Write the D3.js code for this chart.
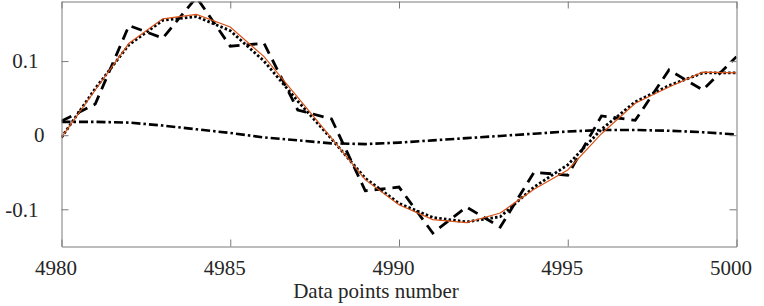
<!DOCTYPE html>
<html>
<head>
<meta charset="utf-8">
<script src="https://cdn.jsdelivr.net/npm/d3@7"></script>
<style>
  body { margin: 0; background: #fff; }
  svg { display: block; }
</style>
</head>
<body>
<svg id="chart"></svg>
<script>
// samples 4980..5000
var xs = d3.range(4980, 5001);

// orange: reference signal
var refVals = [-0.003, 0.061, 0.124, 0.157, 0.163, 0.146, 0.106, 0.051, -0.004, -0.060, -0.094,
               -0.114, -0.118, -0.105, -0.073, -0.047, 0.002, 0.043, 0.065, 0.085, 0.084];
// dotted: estimate
var dotVals = [-0.003, 0.063, 0.122, 0.155, 0.160, 0.141, 0.100, 0.046, -0.005, -0.058, -0.092,
               -0.111, -0.117, -0.110, -0.070, -0.040, 0.008, 0.045, 0.067, 0.084, 0.084];
// dashed: noisy measurement
var noisyVals = [0.019, 0.042, 0.148, 0.131, 0.186, 0.120, 0.124, 0.034, 0.022, -0.075, -0.070,
                 -0.132, -0.097, -0.124, -0.050, -0.054, 0.026, 0.020, 0.088, 0.061, 0.106];
// dash-dot: slow component
var slowVals = [0.018, 0.018, 0.017, 0.013, 0.008, 0.003, -0.003, -0.007, -0.011, -0.012, -0.010,
                -0.007, -0.004, -0.001, 0.002, 0.005, 0.007, 0.007, 0.006, 0.004, 0.001];

var xTicks = [4980, 4985, 4990, 4995, 5000];
var yTicks = [-0.1, 0, 0.1];
var yTickLabels = ["-0.1", "0", "0.1"];

var svgWidth = 764, svgHeight = 306;
var serif = "Liberation Serif, DejaVu Serif, serif";

var svg = d3.select('#chart')
	.attr("width", svgWidth)
	.attr("height", svgHeight);

var xScale = d3.scaleLinear()
	.domain([4980, 5000])
	.range([61.5, 736.5]);

var yScale = d3.scaleLinear()
	.domain([-0.1502, 0.1804])
	.range([246.5, 1.5]);

svg.append("clipPath").attr("id", "plotclip")
	.append("rect")
	.attr("x", 61.5).attr("y", 1.5)
	.attr("width", 675).attr("height", 245);

var line = d3.line()
	.x(function(d){ return xScale(d[0]); })
	.y(function(d){ return yScale(d[1]); });

function pairs(vals){
	return xs.map(function(x, i){ return [x, vals[i]]; });
}

var plot = svg.append("g").attr("clip-path", "url(#plotclip)");

plot.append("path")
	.datum(pairs(slowVals))
	.attr("d", line)
	.attr("fill", "none")
	.attr("stroke", "#000")
	.attr("stroke-width", 2.6)
	.attr("stroke-dasharray", "9,3,2.5,3");

plot.append("path")
	.datum(pairs(noisyVals))
	.attr("d", line)
	.attr("fill", "none")
	.attr("stroke", "#000")
	.attr("stroke-width", 2.8)
	.attr("stroke-dasharray", "11,7");

plot.append("path")
	.datum(pairs(dotVals))
	.attr("d", line)
	.attr("fill", "none")
	.attr("stroke", "#000")
	.attr("stroke-width", 2.8)
	.attr("stroke-dasharray", "2.5,2.2");

plot.append("path")
	.datum(pairs(refVals))
	.attr("d", line)
	.attr("fill", "none")
	.attr("stroke", "#D95319")
	.attr("stroke-width", 1.2);

// axes, matlab style box with inward ticks
var axisColor = "#7a7a7a";

var bottomAxis = svg.append("g")
	.attr("transform", "translate(0,246.5)")
	.call(d3.axisBottom(xScale).tickValues(xTicks).tickFormat(d3.format("d")).tickSizeInner(-7).tickSizeOuter(0).tickPadding(14));
var topAxis = svg.append("g")
	.attr("transform", "translate(0,1.5)")
	.call(d3.axisTop(xScale).tickValues(xTicks).tickFormat("").tickSizeInner(-7).tickSizeOuter(0));
var leftAxis = svg.append("g")
	.attr("transform", "translate(61.5,0)")
	.call(d3.axisLeft(yScale).tickValues(yTicks).tickFormat(function(d, i){ return yTickLabels[i]; }).tickSizeInner(-7).tickSizeOuter(0).tickPadding(23));
var rightAxis = svg.append("g")
	.attr("transform", "translate(736.5,0)")
	.call(d3.axisRight(yScale).tickValues(yTicks).tickFormat("").tickSizeInner(-7).tickSizeOuter(0));

[bottomAxis, topAxis, leftAxis, rightAxis].forEach(function(g){
	g.attr("font-family", serif).attr("font-size", 21);
	g.selectAll("path, line").attr("stroke", axisColor).attr("stroke-width", 1);
	g.selectAll("text").attr("fill", "#262626");
});

bottomAxis.selectAll("text").attr("dx", "-6").attr("dy", "0.71em");
leftAxis.selectAll("text").filter(function(d){ return d === 0; }).attr("dx", "6");

svg.append("text")
	.attr("x", 376)
	.attr("y", 298)
	.attr("text-anchor", "middle")
	.attr("font-family", serif)
	.attr("font-size", 21)
	.attr("fill", "#262626")
	.text("Data points number");
</script>
</body>
</html>
